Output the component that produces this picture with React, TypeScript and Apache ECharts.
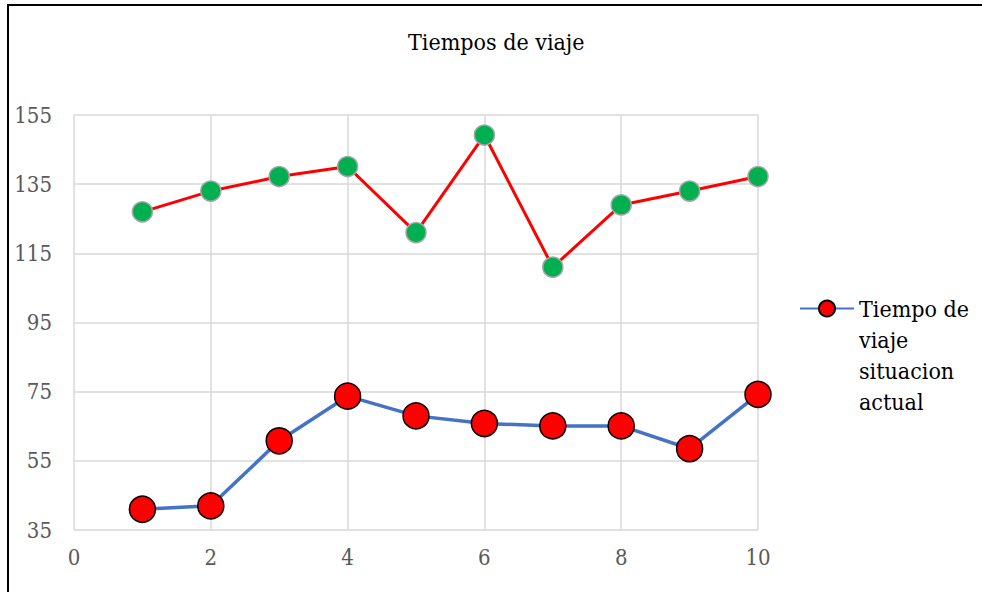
import React, { useEffect, useRef } from "react";
import * as echarts from "echarts";

const xValues = [1, 2, 3, 4, 5, 6, 7, 8, 9, 10];
const topSeriesValues = [127, 133, 137.2, 140.1, 121, 149.2, 111, 129, 133, 137.2];
const actualValues = [41, 42, 60.8, 73.7, 68, 65.8, 65.1, 65.1, 58.5, 74.2];
const titleText = "Tiempos de viaje";
const legendName = "Tiempo de viaje situacion actual";
const legendLabel = "\n\n\nTiempo de\nviaje\nsituacion\nactual";

const SERIF = "DejaVu Serif Condensed";

export default function App() {
  const ref = useRef<HTMLDivElement>(null);
  useEffect(() => {
    if (!ref.current) return;
    const chart = echarts.init(ref.current, null, { renderer: "svg" });
    chart.setOption({
      animation: false,
      backgroundColor: "#ffffff",
      title: {
        text: titleText,
        left: 408,
        top: 30,
        padding: 0,
        textStyle: { fontFamily: SERIF, fontSize: 23, fontWeight: "normal", color: "#000000" },
      },
      graphic: [
        {
          type: "rect",
          shape: { x: 8, y: 5, width: 1100, height: 1100 },
          style: { fill: "none", stroke: "#000000", lineWidth: 2 },
          silent: true,
          z: 100,
        },
      ],
      legend: {
        data: [legendName],
        left: 799,
        top: 200,
        padding: 0,
        itemWidth: 54,
        itemHeight: 20,
        itemGap: 4,
        formatter: () => legendLabel,
        textStyle: {
          fontFamily: SERIF,
          fontSize: 23,
          lineHeight: 31,
          color: "#000000",
        },
      },
      grid: { left: 74, right: 224, top: 115, bottom: 62 },
      xAxis: {
        type: "value",
        min: 0,
        max: 10,
        interval: 2,
        axisLine: { show: false },
        axisTick: { show: false },
        axisLabel: { fontFamily: SERIF, fontSize: 22, color: "#595959", margin: 16 },
        splitLine: { show: true, lineStyle: { color: "#d9d9d9", width: 1.5 } },
      },
      yAxis: {
        type: "value",
        min: 35,
        max: 155,
        interval: 20,
        axisLine: { show: false },
        axisTick: { show: false },
        axisLabel: { fontFamily: SERIF, fontSize: 22, color: "#595959", margin: 22 },
        splitLine: { show: true, lineStyle: { color: "#d9d9d9", width: 1.5 } },
      },
      series: [
        {
          name: "Serie superior",
          type: "line",
          data: xValues.map((x, i) => [x, topSeriesValues[i]]),
          symbol: "circle",
          symbolSize: 20,
          lineStyle: { color: "#ff0000", width: 3 },
          itemStyle: { color: "#00b050", borderColor: "#a6a6a6", borderWidth: 1.5 },
          z: 3,
        },
        {
          name: legendName,
          type: "line",
          data: xValues.map((x, i) => [x, actualValues[i]]),
          symbol: "circle",
          symbolSize: 26,
          lineStyle: { color: "#4472c4", width: 3.5 },
          itemStyle: { color: "#ff0000", borderColor: "#000000", borderWidth: 1.5 },
          z: 3,
        },
      ],
    });
    return () => chart.dispose();
  }, []);
  return (
    <div
      ref={ref}
      style={{ position: "fixed", left: 0, top: 0, width: 982, height: 592 }}
    />
  );
}
